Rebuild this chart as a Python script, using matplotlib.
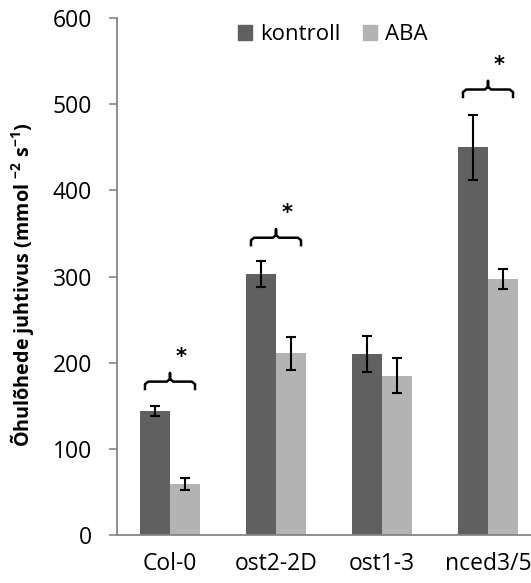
import matplotlib
matplotlib.use('Agg')
import matplotlib.pyplot as plt
from matplotlib.patches import Patch
import numpy as np

plt.rcParams['font.family'] = ['Open Sans', 'DejaVu Sans']
plt.rcParams['mathtext.fontset'] = 'custom'
plt.rcParams['mathtext.rm'] = 'Open Sans'
plt.rcParams['mathtext.bf'] = 'Open Sans:bold'

genotypes = ['Col-0', 'ost2-2D', 'ost1-3', 'nced3/5']
kontroll = [144, 303, 210, 450]
kontroll_err = [5.5, 15, 21, 38]
aba = [59, 211, 185, 297]
aba_err = [7, 19, 20, 12]

# significance brackets: group index and bracket height
sig_groups = [0, 1, 3]
sig_heights = [178, 345, 517]

dark = '#606060'
light = '#b3b3b3'
axis_col = '#868686'

fig = plt.figure(figsize=(5.31, 5.83), dpi=100)
ax = fig.add_axes([117 / 531, 48 / 583, 424 / 531, 517 / 583])

x = np.arange(len(genotypes))
w = 0.283
ekw = dict(ecolor='black', elinewidth=1.5, capsize=3.8, capthick=1.5)
ax.bar(x - w / 2, kontroll, w, color=dark, yerr=kontroll_err, error_kw=ekw,
       label='kontroll')
ax.bar(x + w / 2, aba, w, color=light, yerr=aba_err, error_kw=ekw,
       label='ABA')

# curly brackets with asterisks
for g, h in zip(sig_groups, sig_heights):
    hw = 0.236
    drop = 10
    r = 0.03
    xs = [g - hw, g - hw, g - hw + r, g - r, g, g, g, g + r, g + hw - r, g + hw, g + hw]
    ys = [h - drop, h - 3, h, h, h + 3, h + 10, h + 3, h, h, h - 3, h - drop]
    ax.plot(xs, ys, color='black', lw=1.8, solid_capstyle='butt',
            solid_joinstyle='round', clip_on=False)
    ax.text(g + 0.1, h + 29, '*', ha='center', va='center', fontsize=15,
            fontweight='bold', family='DejaVu Sans')

ax.set_xlim(-0.5, 3.5)
ax.set_ylim(0, 600)
ax.set_yticks(range(0, 601, 100))
ax.set_xticks(x)
ax.set_xticklabels(genotypes)
ax.tick_params(axis='x', length=0, pad=12, labelsize=16.5)
ax.tick_params(axis='y', length=6, width=1.2, color=axis_col, labelsize=16.5, pad=12)

for s in ['top', 'right']:
    ax.spines[s].set_visible(False)
for s in ['left', 'bottom']:
    ax.spines[s].set_color(axis_col)
    ax.spines[s].set_linewidth(1.3)

ax.set_ylabel(r'Õhulõhede juhtivus (mmol $^{\mathbf{-2}}$ s$^{\mathbf{-1}}$)',
              fontsize=14.2, fontweight='bold')
ax.yaxis.set_label_coords(-0.19, 0.485)

handles = [Patch(color=dark, label='kontroll'), Patch(color=light, label='ABA')]
fig.legend(handles=handles, loc='center left', bbox_to_anchor=(229 / 531, 1 - 35 / 583),
           ncol=2, frameon=False, fontsize=16, handlelength=0.65, handleheight=0.65,
           handletextpad=0.35, columnspacing=1.0, borderaxespad=0)

fig.savefig('out.png', dpi=100)
